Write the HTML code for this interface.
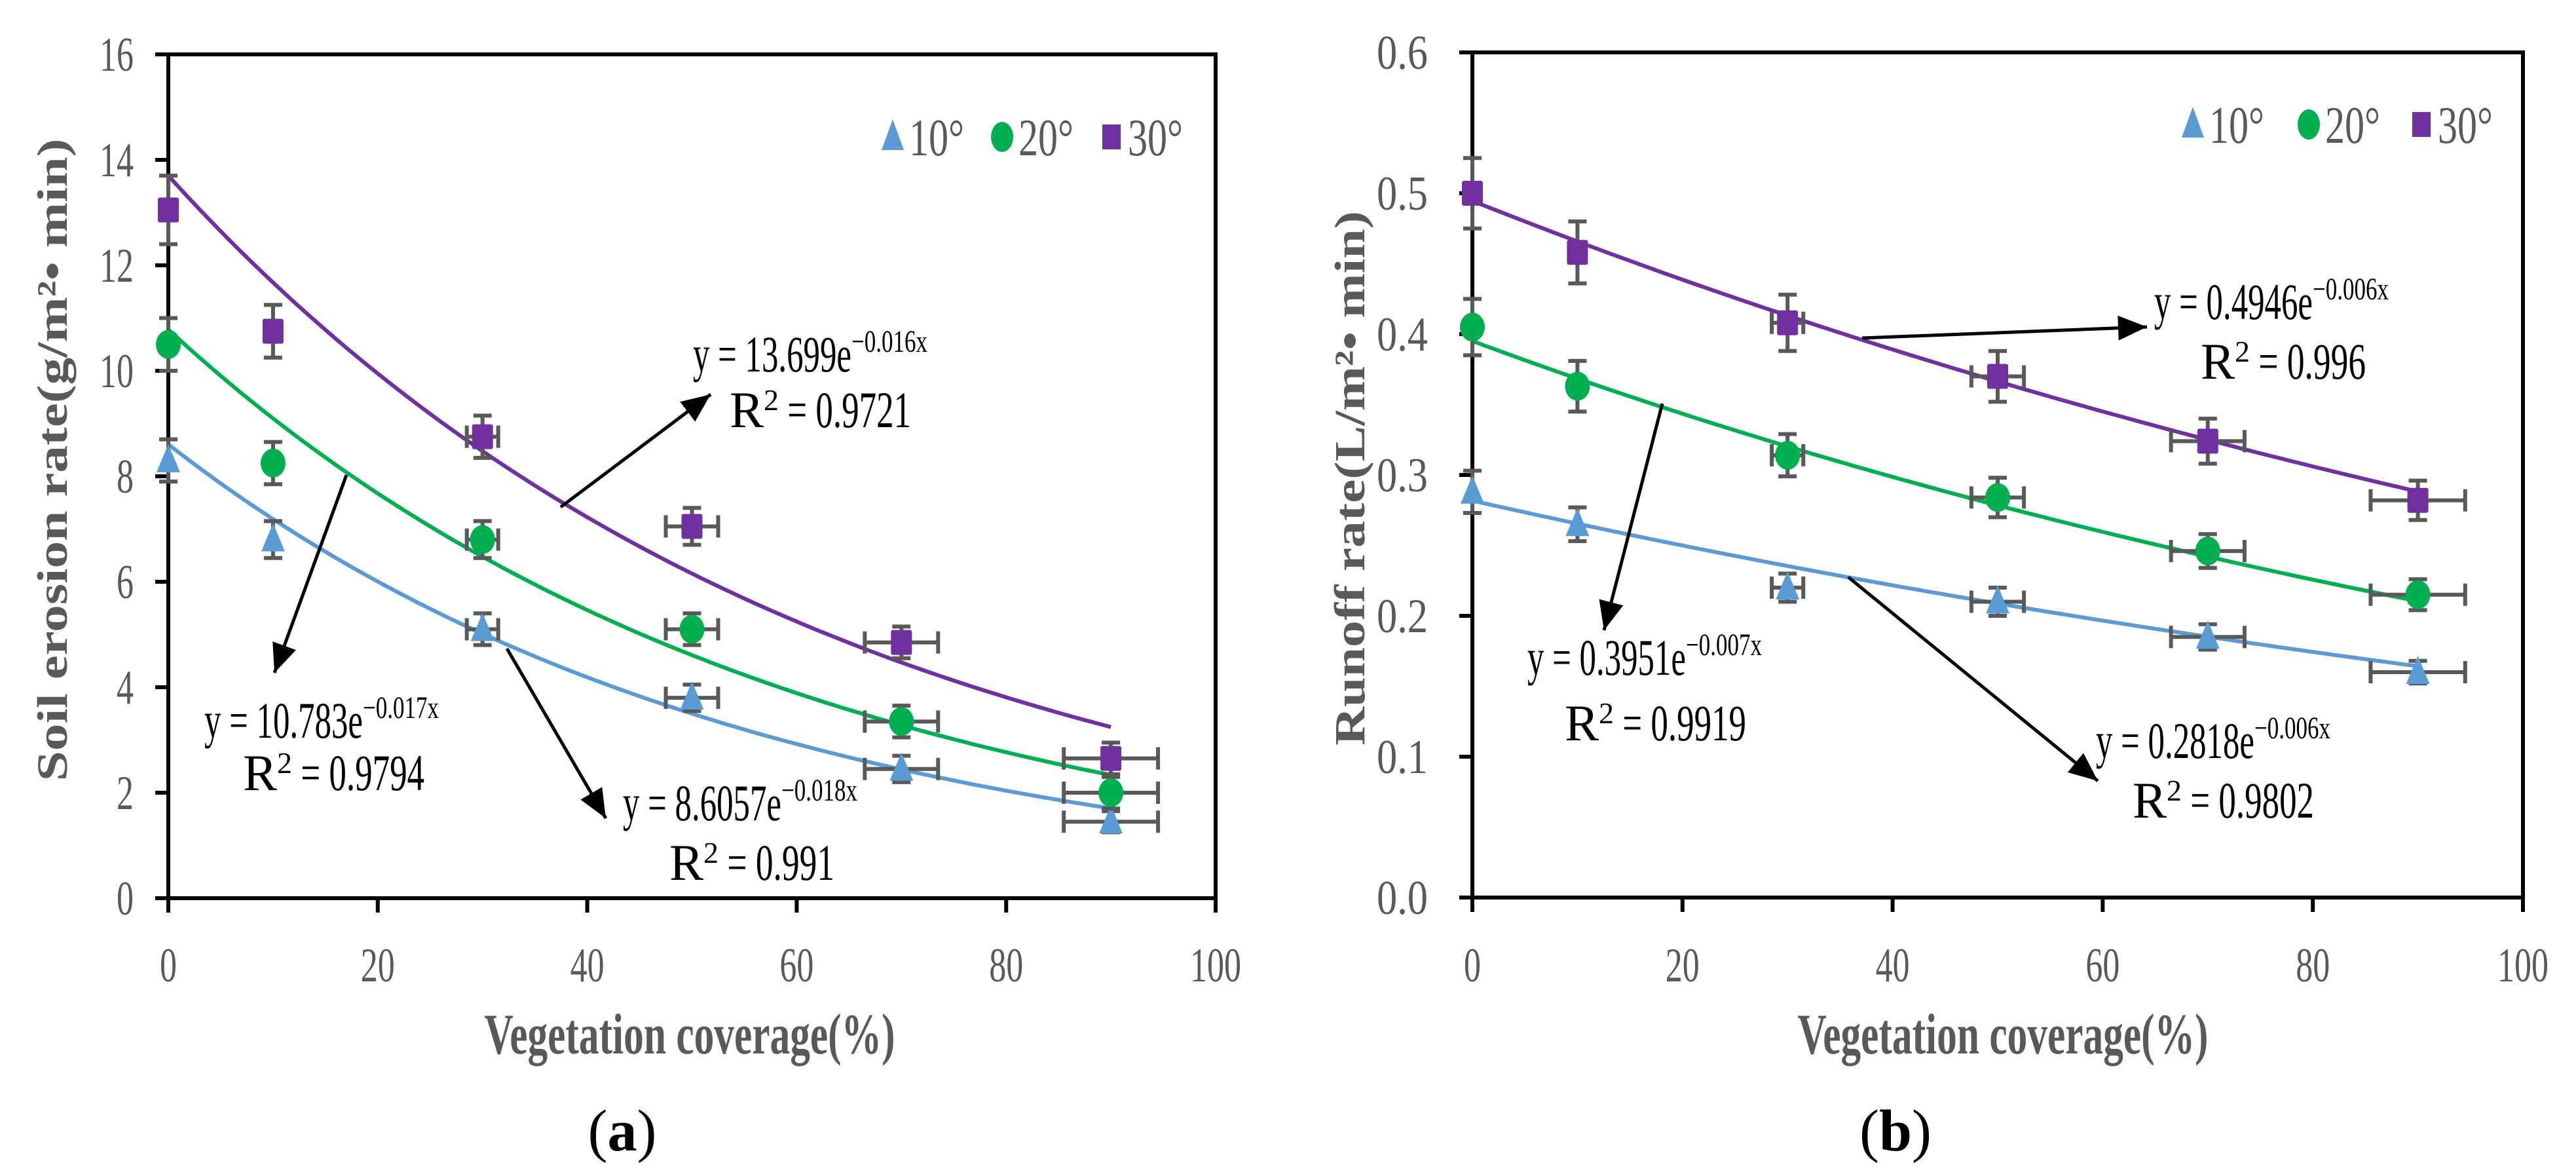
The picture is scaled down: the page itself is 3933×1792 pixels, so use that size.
<!DOCTYPE html>
<html><head><meta charset="utf-8"><title>Soil erosion and runoff vs vegetation coverage</title>
<style>
html,body{margin:0;padding:0;background:#fff;}
svg{display:block;font-family:"Liberation Serif",serif;}
</style></head>
<body>
<svg id="fig" width="3933" height="1792" viewBox="0 0 3933 1792" xmlns="http://www.w3.org/2000/svg"></svg>
<script>
// ---------- data ----------
const coverage = [0, 10, 30, 50, 70, 90];
const xErr = [0, 0, 1.5, 2.5, 3.5, 4.5];
const seriesNames = ['10°', '20°', '30°'];
// panel (a) soil erosion rate
const erosion10 = [8.3, 6.8, 5.1, 3.8, 2.45, 1.45];
const erosion20 = [10.5, 8.25, 6.8, 5.1, 3.35, 2.0];
const erosion30 = [13.05, 10.75, 8.75, 7.05, 4.85, 2.65];
const erosionErr10 = [0.4, 0.35, 0.3, 0.25, 0.25, 0.2];
const erosionErr20 = [0.5, 0.4, 0.35, 0.3, 0.3, 0.3];
const erosionErr30 = [0.65, 0.5, 0.4, 0.35, 0.3, 0.3];
const erosionFitA = [8.6057, 10.783, 13.699];
const erosionFitB = [-0.018, -0.017, -0.016];
const erosionR2 = ['0.991', '0.9794', '0.9721'];
const erosionTicks = [0, 2, 4, 6, 8, 10, 12, 14, 16];
// panel (b) runoff rate
const runoff10 = [0.288, 0.265, 0.22, 0.21, 0.185, 0.16];
const runoff20 = [0.405, 0.363, 0.314, 0.284, 0.246, 0.215];
const runoff30 = [0.5, 0.458, 0.408, 0.37, 0.324, 0.282];
const runoffErr10 = [0.015, 0.012, 0.01, 0.01, 0.009, 0.008];
const runoffErr20 = [0.02, 0.018, 0.015, 0.014, 0.012, 0.011];
const runoffErr30 = [0.025, 0.022, 0.02, 0.018, 0.016, 0.014];
const runoffFitA = [0.2818, 0.3951, 0.4946];
const runoffFitB = [-0.006, -0.007, -0.006];
const runoffR2 = ['0.9802', '0.9919', '0.996'];
const runoffTicks = ['0.0', '0.1', '0.2', '0.3', '0.4', '0.5', '0.6'];
const xTicks = [0, 20, 40, 60, 80, 100];

const NS = 'http://www.w3.org/2000/svg';
const svg = document.getElementById('fig');
const colors = ['#5B9BD5', '#00B050', '#7030A0'];
const GRAY = '#595959';
function mk(tag, attrs, parent) {
  const e = document.createElementNS(NS, tag);
  for (const k in attrs) e.setAttribute(k, attrs[k]);
  (parent || svg).appendChild(e);
  return e;
}
function txt(s, attrs, parent) { const e = mk('text', attrs, parent); e.textContent = s; return e; }

function panel(cfg) {
  const g = mk('g', {});
  
  
  const X = v => cfg.x0 + (cfg.x1 - cfg.x0) * v / 100;
  const Y = v => cfg.y0 - (cfg.y0 - cfg.y1) * (v - cfg.ymin) / (cfg.ymax - cfg.ymin);
  // frame
  const fr = mk('rect', {x: X(0), y: Y(cfg.ymax), width: X(100) - X(0), height: Y(cfg.ymin) - Y(cfg.ymax), fill: 'none', stroke: '#000', 'stroke-width': 6}, g);
  
  
  // y ticks
  cfg.yTicks.forEach(t => {
    const v = parseFloat(t);
    mk('line', {x1: X(0) - 20, x2: X(0), y1: Y(v), y2: Y(v), stroke: '#000', 'stroke-width': 6}, g);
    const l = txt(String(t), {x: cfg.ylabRight, y: Y(v) + 25, 'text-anchor': 'end', 'font-size': 74, fill: GRAY, textLength: String(t).length * 26, lengthAdjust: 'spacingAndGlyphs'}, g);
    
    
  });
  // x ticks
  xTicks.forEach(t => {
    mk('line', {x1: X(t), x2: X(t), y1: Y(cfg.ymin), y2: Y(cfg.ymin) + 22, stroke: '#000', 'stroke-width': 6}, g);
    const l = txt(String(t), {x: X(t), y: 1498, 'text-anchor': 'middle', 'font-size': 74, fill: GRAY, textLength: String(t).length * 26, lengthAdjust: 'spacingAndGlyphs'}, g);
    
    
  });
  // fitted curves
  cfg.series.forEach((s, i) => {
    let d = '';
    for (let x = 0; x <= 90; x += 1) {
      const y = cfg.fitA[i] * Math.exp(cfg.fitB[i] * x);
      d += (x ? 'L' : 'M') + X(x).toFixed(1) + ',' + Y(y).toFixed(1);
    }
    const p = mk('path', {d: d, fill: 'none', stroke: colors[i], 'stroke-width': 6}, g);
    
    
  });
  // error bars & markers
  cfg.series.forEach((s, i) => {
    s.forEach((v, j) => {
      const cx = X(coverage[j]), cy = Y(v);
      const e = cfg.errs[i][j];
      const eb = mk('g', {stroke: GRAY, 'stroke-width': 6}, g);
      
      
      mk('line', {x1: cx, x2: cx, y1: Y(v + e), y2: Y(v - e)}, eb);
      mk('line', {x1: cx - 14, x2: cx + 14, y1: Y(v + e), y2: Y(v + e)}, eb);
      mk('line', {x1: cx - 14, x2: cx + 14, y1: Y(v - e), y2: Y(v - e)}, eb);
      if (xErr[j] > 0) {
        const xa = X(coverage[j] - xErr[j]), xb = X(coverage[j] + xErr[j]);
        mk('line', {x1: xa, x2: xb, y1: cy, y2: cy}, eb);
        mk('line', {x1: xa, x2: xa, y1: cy - 17, y2: cy + 17}, eb);
        mk('line', {x1: xb, x2: xb, y1: cy - 17, y2: cy + 17}, eb);
      }
      let m;
      if (i === 0) m = mk('polygon', {points: `${cx},${cy - 25} ${cx - 18},${cy + 18} ${cx + 18},${cy + 18}`, fill: colors[0]}, g);
      else if (i === 1) m = mk('ellipse', {cx: cx, cy: cy, rx: 19, ry: 22, fill: colors[1]}, g);
      else m = mk('rect', {x: cx - 16, y: cy - 19, width: 32, height: 38, rx: 3, fill: colors[2]}, g);
      
      
    });
  });
  // legend
  const lg = mk('g', {}, g);
  
  
  cfg.legend.forEach((lx, i) => {
    const ly = cfg.legendY;
    let m;
    if (i === 0) m = mk('polygon', {points: `${lx},${ly - 27} ${lx - 17},${ly + 20} ${lx + 17},${ly + 20}`, fill: colors[0]}, lg);
    else if (i === 1) m = mk('ellipse', {cx: lx, cy: ly, rx: 17, ry: 23, fill: colors[1]}, lg);
    else m = mk('rect', {x: lx - 14, y: ly - 19, width: 28, height: 38, fill: colors[2]}, lg);
    
    
    const t = txt(seriesNames[i], {x: lx + 25, y: ly + 28, 'font-size': 80, fill: GRAY, textLength: 84, lengthAdjust: 'spacingAndGlyphs'}, lg);
    
    
  });
  // annotations
  cfg.ann.forEach((a, i) => {
    const ag = mk('g', {}, g);
    
    
    mk('line', {x1: a.from[0], y1: a.from[1], x2: a.to[0], y2: a.to[1], stroke: '#000', 'stroke-width': 5}, ag);
    const ang = Math.atan2(a.to[1] - a.from[1], a.to[0] - a.from[0]);
    const L = 44, W = 19;
    const bx = a.to[0] - L * Math.cos(ang), by = a.to[1] - L * Math.sin(ang);
    const px = -Math.sin(ang) * W, py = Math.cos(ang) * W;
    mk('polygon', {points: `${a.to[0]},${a.to[1]} ${bx + px},${by + py} ${bx - px},${by - py}`, fill: '#000'}, ag);
    const eq = txt('', {x: a.eq[0], y: a.eq[1], 'font-size': 78, fill: '#000'}, ag);
    const t1 = mk('tspan', {}, eq); t1.textContent = 'y = ' + cfg.fitA[i] + 'e';
    t1.setAttribute('textLength', String(cfg.fitA[i]).length * 25 + 92);
    t1.setAttribute('lengthAdjust', 'spacingAndGlyphs');
    const t2 = mk('tspan', {dy: -30, 'font-size': 48}, eq); t2.textContent = '−' + Math.abs(cfg.fitB[i]).toFixed(3) + 'x';
    t2.setAttribute('textLength', 116);
    t2.setAttribute('lengthAdjust', 'spacingAndGlyphs');
    const r = txt('', {x: a.r2[0], y: a.r2[1], 'font-size': 78, fill: '#000'}, ag);
    const r1 = mk('tspan', {}, r); r1.textContent = 'R';
    const r2 = mk('tspan', {dy: -26, 'font-size': 46}, r); r2.textContent = '2';
    const r3 = mk('tspan', {dy: 26}, r); r3.textContent = ' = ' + cfg.r2[i];
    r3.setAttribute('textLength', cfg.r2[i].length * 25 + 52);
    r3.setAttribute('lengthAdjust', 'spacingAndGlyphs');
  });
  // axis titles
  const xt = txt('Vegetation coverage(%)', {x: cfg.xTitleX, y: 1608, 'text-anchor': 'middle', 'font-size': 88, 'font-weight': 'bold', fill: GRAY, textLength: 627, lengthAdjust: 'spacingAndGlyphs'}, g);
  
  
  const yt = txt(cfg.yTitle, {x: 0, y: 0, 'text-anchor': 'middle', 'font-size': 66, 'font-weight': 'bold', fill: GRAY, textLength: cfg.yTitleLen, lengthAdjust: 'spacingAndGlyphs', transform: `translate(${cfg.yTitleX},${cfg.yTitleY}) rotate(-90)`}, g);
  
  
  const pl = txt('', {x: cfg.labelX, y: 1756, 'text-anchor': 'middle', 'font-size': 90, fill: '#000'}, g);
  const p1 = mk('tspan', {}, pl); p1.textContent = '(';
  const p2 = mk('tspan', {'font-weight': 'bold'}, pl); p2.textContent = cfg.label;
  const p3 = mk('tspan', {}, pl); p3.textContent = ')';
  
  
}

panel({
  name: 'panel-a-soil-erosion', x0: 257, x1: 1856, y0: 1371, y1: 83, ymin: 0, ymax: 16,
  yTicks: erosionTicks, ylabRight: 204,
  series: [erosion10, erosion20, erosion30], errs: [erosionErr10, erosionErr20, erosionErr30],
  fitA: erosionFitA, fitB: erosionFitB, r2: erosionR2,
  legend: [1363, 1530, 1697], legendY: 209,
  ann: [
    {from: [774, 990], to: [925, 1249], eq: [951, 1252], r2: [1022, 1343]},
    {from: [529, 725], to: [419, 1027], eq: [312, 1126], r2: [371, 1206]},
    {from: [856, 774], to: [1085, 602], eq: [1058, 567], r2: [1114, 652]}
  ],
  xTitleX: 1053, yTitle: 'Soil erosion rate(g/m²• min)', yTitleX: 102, yTitleY: 702, yTitleLen: 981,
  labelX: 950, label: 'a'
});
panel({
  name: 'panel-b-runoff', x0: 2248, x1: 3852, y0: 1370, y1: 80, ymin: 0, ymax: 0.6,
  yTicks: runoffTicks, ylabRight: 2180,
  series: [runoff10, runoff20, runoff30], errs: [runoffErr10, runoffErr20, runoffErr30],
  fitA: runoffFitA, fitB: runoffFitB, r2: runoffR2,
  legend: [3348, 3525, 3697], legendY: 190,
  ann: [
    {from: [2822, 881], to: [3203, 1192], eq: [3200, 1157], r2: [3256, 1248]},
    {from: [2538, 616], to: [2449, 962], eq: [2332, 1030], r2: [2389, 1130]},
    {from: [2843, 516], to: [3278, 499], eq: [3289, 487], r2: [3360, 578]}
  ],
  xTitleX: 3058, yTitle: 'Runoff rate(L/m²• min)', yTitleX: 2083, yTitleY: 730, yTitleLen: 816,
  labelX: 2894, label: 'b'
});
</script>
</body></html>
